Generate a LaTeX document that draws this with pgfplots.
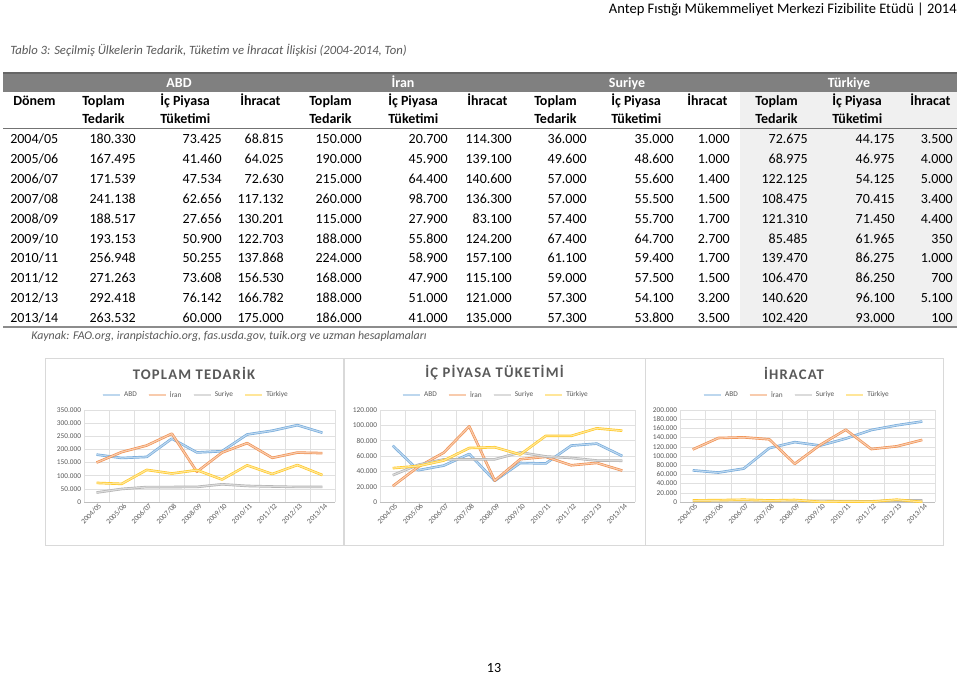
\documentclass[border=0pt]{standalone}
\usepackage{fontspec}
\setmainfont{Carlito}
\usepackage{pgfplots}
\pgfplotsset{compat=1.18}
\definecolor{cABD}{HTML}{5B9BD5}
\definecolor{cIRN}{HTML}{ED7D31}
\definecolor{cSUR}{HTML}{A5A5A5}
\definecolor{cTUR}{HTML}{FFC000}
\definecolor{band}{HTML}{808080}
\definecolor{txtgray}{HTML}{595959}
\pgfplotsset{
  cstyle/.style={
    scale only axis, height=69pt,
    xmin=-0.5, xmax=9.5, ymin=0,
    xtick={0,...,9},
    xticklabels={2004/05,2005/06,2006/07,2007/08,2008/09,2009/10,2010/11,2011/12,2012/13,2013/14},
    minor xtick={-0.5,0.5,...,9.5},
    xminorgrids, ymajorgrids,
    grid style={draw=black!12, line width=0.4pt},
    minor grid style={draw=black!12, line width=0.4pt},
    axis x line*=bottom, axis y line*=left,
    x axis line style={draw=black!25, -},
    y axis line style={draw=none},
    major tick length=0pt, minor tick length=0pt,
    tick style={draw=none},
    ticklabel style={font=\fontsize{5.5}{6}\selectfont, text=txtgray},
    x tick label style={rotate=45, anchor=east, inner sep=0.5pt, yshift=-3.5pt, xshift=1pt},
    y tick label style={inner sep=0.5pt, xshift=-1.5pt},
    scaled y ticks=false,
    /pgf/number format/.cd, 1000 sep={.}, fixed, assume math mode=true, /pgfplots/.cd,
    legend columns=4,
    legend style={anchor=center, draw=none, fill=none, font=\fontsize{5.5}{6}\selectfont, text=txtgray,
      /tikz/every even column/.append style={column sep=6pt}},
    legend image code/.code={\draw[##1] (0pt,0pt) -- (13pt,0pt);},
    every axis plot/.append style={line width=0.5pt, line join=round},
  },
  sABD/.style={draw=cABD!85!white, double=cABD!40!white, double distance=0.9pt},
  sIRN/.style={draw=cIRN!85!white, double=cIRN!40!white, double distance=0.9pt},
  sSUR/.style={draw=cSUR!85!white, double=cSUR!40!white, double distance=0.9pt},
  sTUR/.style={draw=cTUR!85!white, double=cTUR!40!white, double distance=0.9pt},
}
\begin{document}
\begin{tikzpicture}
\useasboundingbox (0pt,0pt) rectangle (720pt,-506.25pt);
\begin{scope}[x=0.75pt,y=-0.75pt]
\fill[white] (0,0) rectangle (960,675);
% page header
\node[anchor=base east, inner sep=0pt, font=\fontsize{10.9}{12}\selectfont] at (957,13) {Antep Fıstığı Mükemmeliyet Merkezi Fizibilite Etüdü | 2014};
\node[anchor=base west, inner sep=0pt, font=\fontsize{9.5}{11}\selectfont\itshape, text=txtgray] at (10,54) {Tablo 3: Seçilmiş Ülkelerin Tedarik, Tüketim ve İhracat İlişkisi (2004-2014, Ton)};
% table background
\fill[black!6] (740,92) rectangle (957,327);
\fill[band] (3,73) rectangle (957,92);
\draw[line width=1.1pt, black!60] (3,73) -- (957,73);
\draw[line width=1.3pt, black!55] (3,128.5) -- (957,128.5);
\draw[line width=1.3pt, black!45] (3,327) -- (957,327);
% group labels
\foreach \gx/\gt in {179/ABD,403/İran,627/Suriye,849/Türkiye}{
  \node[anchor=base, inner sep=0pt, text=white, font=\fontsize{10.5}{12}\selectfont\bfseries] at (\gx,87.5) {\gt};
}
% column headers
\node[anchor=base west, inner sep=0pt, font=\fontsize{10.5}{12}\selectfont\bfseries] at (13,105.5) {Dönem};
\foreach \hx in {82,309,534,755}{
  \node[anchor=base west, inner sep=0pt, font=\fontsize{10.5}{12}\selectfont\bfseries] at (\hx,105.5) {Toplam};
  \node[anchor=base west, inner sep=0pt, font=\fontsize{10.5}{12}\selectfont\bfseries] at (\hx,123.5) {Tedarik};
}
\foreach \hx in {160,388,611,832}{
  \node[anchor=base west, inner sep=0pt, font=\fontsize{10.5}{12}\selectfont\bfseries] at (\hx,105.5) {İç Piyasa};
  \node[anchor=base west, inner sep=0pt, font=\fontsize{10.5}{12}\selectfont\bfseries] at (\hx,123.5) {Tüketimi};
}
\foreach \hx in {240,467,687,910}{
  \node[anchor=base west, inner sep=0pt, font=\fontsize{10.5}{12}\selectfont\bfseries] at (\hx,105.5) {İhracat};
}
% table rows
\def\colx{{10,136,222,284,362,448,512,587,674,730,808,895,953}}
\foreach \row [count=\i from 0] in {
 {2004/05,180.330,73.425,68.815,150.000,20.700,114.300,36.000,35.000,1.000,72.675,44.175,3.500},
 {2005/06,167.495,41.460,64.025,190.000,45.900,139.100,49.600,48.600,1.000,68.975,46.975,4.000},
 {2006/07,171.539,47.534,72.630,215.000,64.400,140.600,57.000,55.600,1.400,122.125,54.125,5.000},
 {2007/08,241.138,62.656,117.132,260.000,98.700,136.300,57.000,55.500,1.500,108.475,70.415,3.400},
 {2008/09,188.517,27.656,130.201,115.000,27.900,83.100,57.400,55.700,1.700,121.310,71.450,4.400},
 {2009/10,193.153,50.900,122.703,188.000,55.800,124.200,67.400,64.700,2.700,85.485,61.965,350},
 {2010/11,256.948,50.255,137.868,224.000,58.900,157.100,61.100,59.400,1.700,139.470,86.275,1.000},
 {2011/12,271.263,73.608,156.530,168.000,47.900,115.100,59.000,57.500,1.500,106.470,86.250,700},
 {2012/13,292.418,76.142,166.782,188.000,51.000,121.000,57.300,54.100,3.200,140.620,96.100,5.100},
 {2013/14,263.532,60.000,175.000,186.000,41.000,135.000,57.300,53.800,3.500,102.420,93.000,100}}{
  \foreach \v [count=\j] in \row {
    \pgfmathsetmacro\cx{\colx[\j-1]}
    \pgfmathsetmacro\cy{143.5+19.9*\i}
    \ifnum\j=1
      \node[anchor=base west, inner sep=0pt, font=\fontsize{10.5}{12}\selectfont] at (\cx,\cy) {\v};
    \else
      \node[anchor=base east, inner sep=0pt, font=\fontsize{10.5}{12}\selectfont] at (\cx,\cy) {\v};
    \fi
  }
}
\node[anchor=base, inner sep=0pt, font=\fontsize{8.9}{10}\selectfont\itshape, text=txtgray] at (229,339) {Kaynak: FAO.org, iranpistachio.org, fas.usda.gov, tuik.org ve uzman hesaplamaları};
% chart panels
\draw[black!15] (45,358) rectangle (343,545);
\draw[black!15] (344,358) rectangle (645,545);
\draw[black!15] (645,358) rectangle (943,545);
\foreach \tx/\tt in {194/TOPLAM TEDARİK,494.5/İÇ PİYASA TÜKETİMİ,794/İHRACAT}{
  \node[anchor=center, inner sep=0pt, text=txtgray, font=\fontsize{11}{13}\selectfont\bfseries\addfontfeature{LetterSpace=8}] at (\tx,373) {\tt};
}
\node[anchor=center, inner sep=0pt, font=\fontsize{10.5}{12}\selectfont] at (494,668) {13};
\end{scope}

% Chart 1: Toplam Tedarik
\begin{axis}[cstyle, at={(63pt,-376.5pt)}, anchor=south west, width=188.25pt,
  ymax=350000, ytick={0,50000,100000,150000,200000,250000,300000,350000},
  legend style={at={(0.446,1.163)}}]
\addplot[sABD] coordinates {(0,180330) (1,167495) (2,171539) (3,241138) (4,188517) (5,193153) (6,256948) (7,271263) (8,292418) (9,263532)};
\addplot[sIRN] coordinates {(0,150000) (1,190000) (2,215000) (3,260000) (4,115000) (5,188000) (6,224000) (7,168000) (8,188000) (9,186000)};
\addplot[sSUR] coordinates {(0,36000) (1,49600) (2,57000) (3,57000) (4,57400) (5,67400) (6,61100) (7,59000) (8,57300) (9,57300)};
\addplot[sTUR] coordinates {(0,72675) (1,68975) (2,122125) (3,108475) (4,121310) (5,85485) (6,139470) (7,106470) (8,140620) (9,102420)};
\legend{ABD,İran,Suriye,Türkiye}
\end{axis}

% Chart 2: Ic Piyasa Tuketimi
\begin{axis}[cstyle, at={(285pt,-376.5pt)}, anchor=south west, width=191.25pt,
  ymax=120000, ytick={0,20000,40000,60000,80000,100000,120000},
  legend style={at={(0.455,1.163)}}]
\addplot[sABD] coordinates {(0,73425) (1,41460) (2,47534) (3,62656) (4,27656) (5,50900) (6,50255) (7,73608) (8,76142) (9,60000)};
\addplot[sIRN] coordinates {(0,20700) (1,45900) (2,64400) (3,98700) (4,27900) (5,55800) (6,58900) (7,47900) (8,51000) (9,41000)};
\addplot[sSUR] coordinates {(0,35000) (1,48600) (2,55600) (3,55500) (4,55700) (5,64700) (6,59400) (7,57500) (8,54100) (9,53800)};
\addplot[sTUR] coordinates {(0,44175) (1,46975) (2,54125) (3,70415) (4,71450) (5,61965) (6,86275) (7,86250) (8,96100) (9,93000)};
\legend{ABD,İran,Suriye,Türkiye}
\end{axis}

% Chart 3: Ihracat
\begin{axis}[cstyle, at={(510pt,-376.5pt)}, anchor=south west, width=191.25pt,
  ymax=200000, ytick={0,20000,40000,60000,80000,100000,120000,140000,160000,180000,200000},
  legend style={at={(0.459,1.163)}}]
\addplot[sABD] coordinates {(0,68815) (1,64025) (2,72630) (3,117132) (4,130201) (5,122703) (6,137868) (7,156530) (8,166782) (9,175000)};
\addplot[sIRN] coordinates {(0,114300) (1,139100) (2,140600) (3,136300) (4,83100) (5,124200) (6,157100) (7,115100) (8,121000) (9,135000)};
\addplot[sSUR] coordinates {(0,1000) (1,1000) (2,1400) (3,1500) (4,1700) (5,2700) (6,1700) (7,1500) (8,3200) (9,3500)};
\addplot[sTUR] coordinates {(0,3500) (1,4000) (2,5000) (3,3400) (4,4400) (5,350) (6,1000) (7,700) (8,5100) (9,100)};
\legend{ABD,İran,Suriye,Türkiye}
\end{axis}
\end{tikzpicture}
\end{document}
